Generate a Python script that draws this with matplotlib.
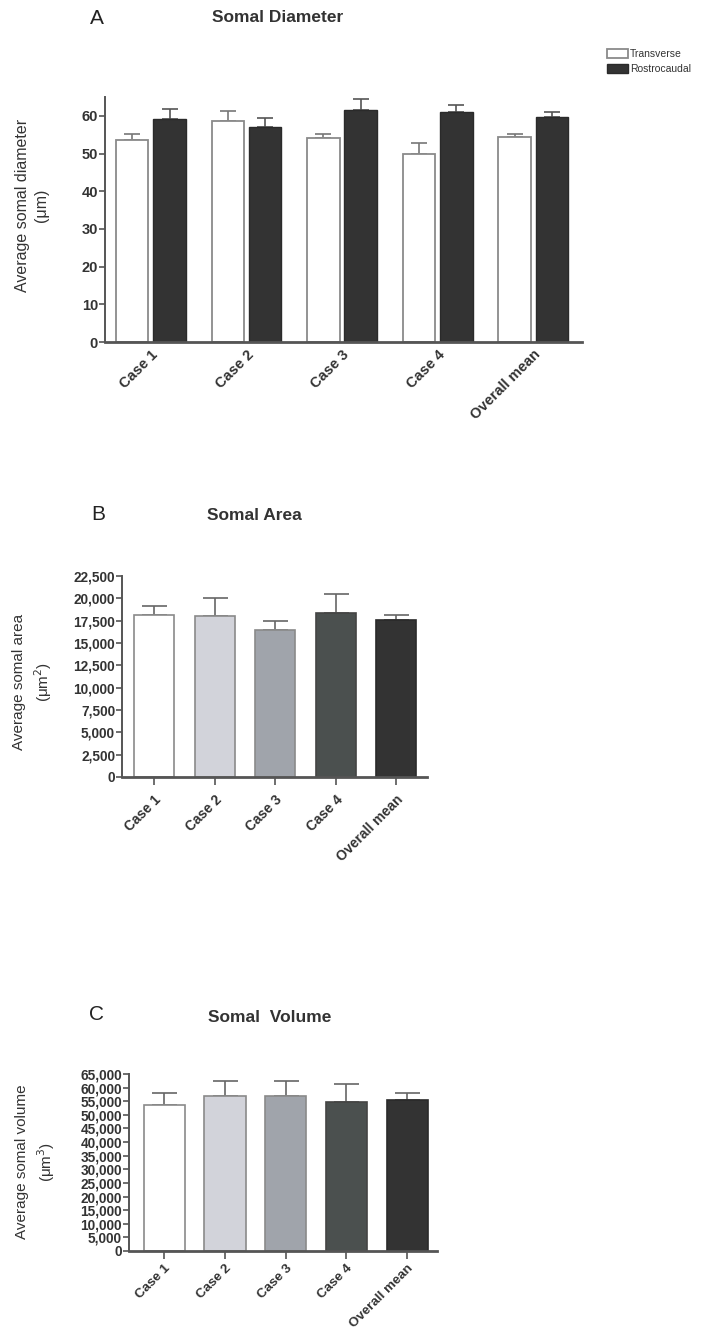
import matplotlib
matplotlib.use("Agg")
import matplotlib.pyplot as plt
from matplotlib.ticker import FuncFormatter

plt.rcParams['font.family'] = ['Liberation Sans', 'DejaVu Sans']

# categories
cases = ["Case 1", "Case 2", "Case 3", "Case 4", "Overall mean"]

# panel A: somal diameter (um), mean and SEM
diam_trans = [53.6, 58.7, 54.1, 50.0, 54.5]
diam_trans_err = [1.5, 2.5, 1.2, 2.9, 0.8]
diam_rostro = [59.1, 57.1, 61.5, 61.1, 59.7]
diam_rostro_err = [2.7, 2.2, 3.1, 1.7, 1.2]

# panel B: somal area (um^2)
area = [18100, 17990, 16420, 18360, 17540]
area_err = [1040, 2090, 1010, 2090, 640]

# panel C: somal volume (um^3)
volume = [53700, 57100, 57100, 54900, 55500]
volume_err = [4300, 5200, 5400, 6400, 2500]

case_colors = ["#ffffff", "#d2d3da", "#a0a4ab", "#4b504f", "#333333"]
case_edges = ["#8a8a8a", "#8a8a8a", "#8a8a8a", "#444444", "#2a2a2a"]
axis_gray = "#555555"
text_col = "#333333"

fig = plt.figure(figsize=(7.14, 13.32), dpi=100)


def style_axes(ax):
    for s in ["top", "right"]:
        ax.spines[s].set_visible(False)
    ax.spines["left"].set_color(axis_gray)
    ax.spines["left"].set_linewidth(1.4)
    ax.spines["bottom"].set_color(axis_gray)
    ax.spines["bottom"].set_linewidth(2.0)
    ax.tick_params(axis="y", direction="out", length=4, width=1.2,
                   color=axis_gray, labelsize=9.8, labelcolor=text_col, pad=1)
    ax.tick_params(axis="x", direction="out", length=6, width=1.2,
                   color=axis_gray, labelsize=10, labelcolor=text_col, pad=5)
    for lab in ax.get_yticklabels():
        lab.set_fontweight("bold")


# ---------- panel A ----------
axA = fig.add_axes([105 / 714, 1 - 342 / 1332, (582 - 105) / 714, (342 - 97) / 1332])
x = list(range(len(cases)))
w = 0.34
off = 0.195
bt = axA.bar([i - off for i in x], diam_trans, w, color="white", edgecolor="#8a8a8a",
             linewidth=1.3, label="Transverse", zorder=2)
br = axA.bar([i + off for i in x], diam_rostro, w, color="#333333", edgecolor="#2a2a2a",
             linewidth=1.0, label="Rostrocaudal", zorder=2)
axA.errorbar([i - off for i in x], diam_trans, yerr=[[0] * 5, diam_trans_err], fmt="none",
             ecolor="#777777", elinewidth=1.2, capsize=6, capthick=1.2, zorder=1)
axA.errorbar([i + off for i in x], diam_rostro, yerr=[[0] * 5, diam_rostro_err], fmt="none",
             ecolor="#555555", elinewidth=1.2, capsize=6, capthick=1.2, zorder=1)
axA.set_ylim(0, 65)
axA.set_xlim(-0.48, 4.51)
axA.set_yticks(range(0, 61, 10))
axA.set_xticks(x)
axA.set_xticklabels(cases, rotation=45, ha="right", rotation_mode="anchor", fontweight="bold")
style_axes(axA)
axA.tick_params(axis="x", length=0, labelsize=10.5, pad=4)
axA.tick_params(axis="y", labelsize=10.5)
for lab in axA.get_yticklabels():
    lab.set_fontweight("bold")
fig.legend(handles=[bt, br], labels=["Transverse", "Rostrocaudal"], loc="upper left",
           bbox_to_anchor=(598 / 714, 1 - 40 / 1332), frameon=False, fontsize=7.5,
           handlelength=2.0, handleheight=0.9, handletextpad=0.2, labelspacing=0.45,
           labelcolor=text_col)
fig.text(97 / 714, 1 - 18 / 1332, "A", fontsize=15, ha="center", va="center", color="#222222")
fig.text(278 / 714, 1 - 18 / 1332, "Somal Diameter", fontsize=12.5, fontweight="bold",
         ha="center", va="center", color="#333333")
fig.text(32 / 714, 1 - 205 / 1332, "Average somal diameter\n(\u03bcm)", rotation=90,
         fontsize=11.5, ha="center", va="center", color=text_col, linespacing=1.4)

# ---------- panel B ----------
axB = fig.add_axes([122 / 714, 1 - 777 / 1332, (427 - 122) / 714, (777 - 576) / 1332])
axB.bar(x, area, 0.66, color=case_colors, edgecolor=case_edges, linewidth=1.2, zorder=2)
axB.errorbar(x, area, yerr=[[0] * 5, area_err], fmt="none", ecolor="#666666",
             elinewidth=1.2, capsize=9, capthick=1.2, zorder=1)
axB.set_ylim(0, 22500)
axB.set_xlim(-0.53, 4.51)
axB.set_yticks(range(0, 22501, 2500))
axB.yaxis.set_major_formatter(FuncFormatter(lambda v, p: f"{int(v):,}"))
axB.set_xticks(x)
axB.set_xticklabels(cases, rotation=45, ha="right", rotation_mode="anchor", fontweight="bold")
style_axes(axB)
fig.text(98 / 714, 1 - 515 / 1332, "B", fontsize=15, ha="center", va="center", color="#222222")
fig.text(254 / 714, 1 - 515 / 1332, "Somal Area", fontsize=12.5, fontweight="bold",
         ha="center", va="center", color="#333333")
fig.text(33 / 714, 1 - 682 / 1332, "Average somal area\n(\u03bcm$^2$)", rotation=90,
         fontsize=11, ha="center", va="center", color=text_col, linespacing=1.4)

# ---------- panel C ----------
axC = fig.add_axes([129 / 714, 1 - 1251 / 1332, (437 - 129) / 714, (1251 - 1074) / 1332])
axC.bar(x, volume, 0.68, color=case_colors, edgecolor=case_edges, linewidth=1.2, zorder=2)
axC.errorbar(x, volume, yerr=[[0] * 5, volume_err], fmt="none", ecolor="#666666",
             elinewidth=1.2, capsize=9, capthick=1.2, zorder=1)
axC.set_ylim(0, 65000)
axC.set_xlim(-0.58, 4.49)
axC.set_yticks(range(0, 65001, 5000))
axC.yaxis.set_major_formatter(FuncFormatter(lambda v, p: f"{int(v):,}"))
axC.set_xticks(x)
axC.set_xticklabels(cases, rotation=45, ha="right", rotation_mode="anchor", fontweight="bold")
style_axes(axC)
axC.tick_params(axis="x", labelsize=9.6, pad=2)
fig.text(97 / 714, 1 - 1015 / 1332, "C", fontsize=15, ha="center", va="center", color="#222222")
fig.text(270 / 714, 1 - 1017 / 1332, "Somal  Volume", fontsize=12.5, fontweight="bold",
         ha="center", va="center", color="#333333")
fig.text(36 / 714, 1 - 1162 / 1332, "Average somal volume\n(\u03bcm$^3$)", rotation=90,
         fontsize=11, ha="center", va="center", color=text_col, linespacing=1.4)

fig.savefig("out.png", dpi=100)
